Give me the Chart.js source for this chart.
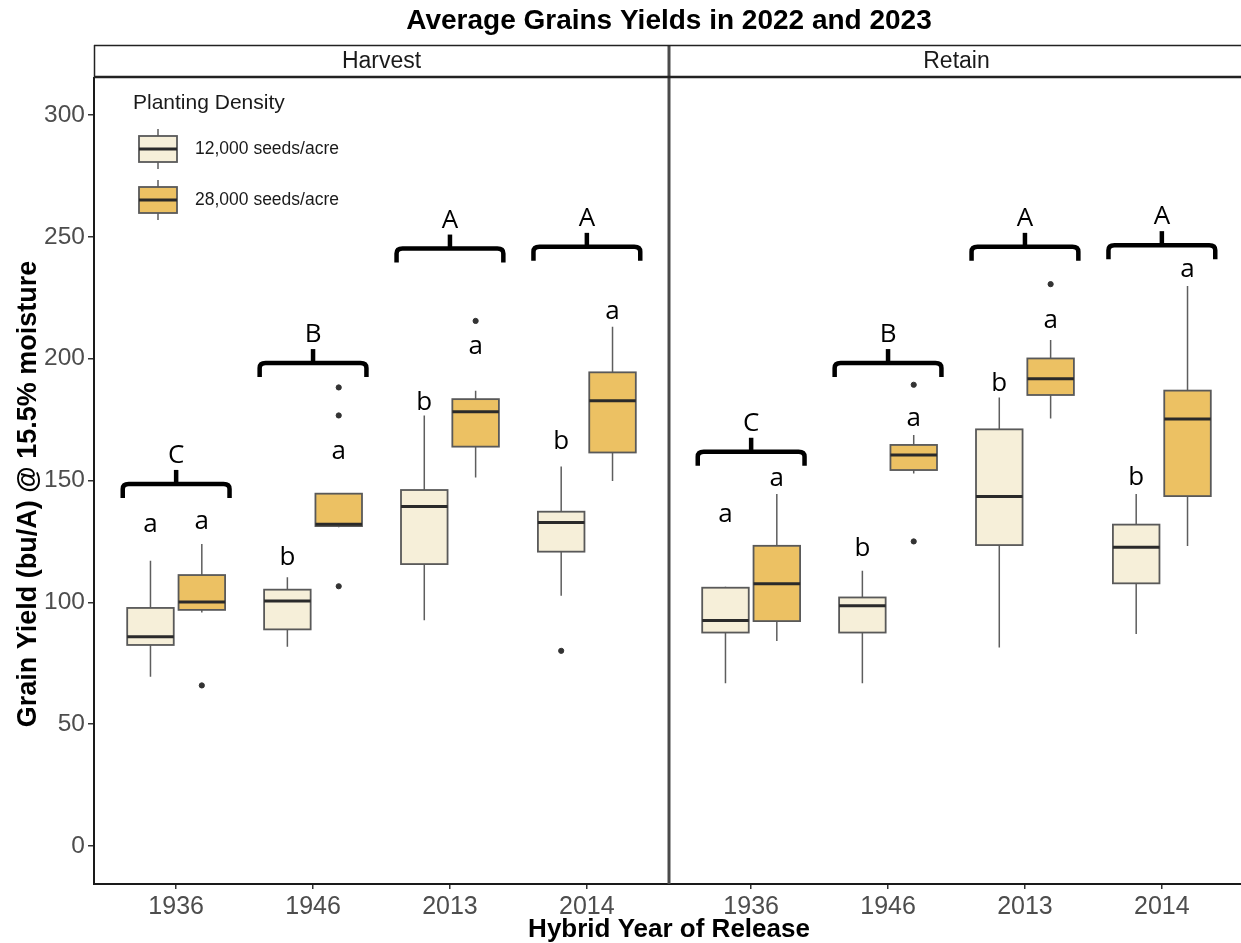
<!DOCTYPE html>
<html>
<head>
<meta charset="utf-8">
<script src="https://cdn.jsdelivr.net/npm/chart.js@4.4.1/dist/chart.umd.min.js"></script>
<style>
  html, body { margin: 0; padding: 0; background: #fff; overflow: hidden; }
  canvas { display: block; }
</style>
</head>
<body>
<canvas id="chart" width="1250" height="943"></canvas>
<script>
// ---- data ----
const years = ['1936', '1946', '2013', '2014'];
const panels = ['Harvest', 'Retain'];
const densities = ['12,000 seeds/acre', '28,000 seeds/acre'];
const yTicks = [0, 50, 100, 150, 200, 250, 300];

// five-number summaries per hybrid: [lower whisker, Q1, median, Q3, upper whisker]
const harvest12k = [
  [69.5, 82.5, 85.9, 97.7, 117.1],
  [81.8, 88.9, 100.5, 105.2, 110.3],
  [92.7, 115.7, 139.3, 146.1, 176.7],
  [102.7, 120.8, 132.8, 137.2, 155.7]
];
const harvest28k = [
  [95.8, 96.9, 100.1, 111.2, 123.9],
  [130.8, 131.3, 132.1, 144.6, 144.6],
  [151.2, 163.9, 178.2, 183.4, 186.8],
  [149.8, 161.5, 182.7, 194.4, 213.1]
];
const retain12k = [
  [66.8, 87.6, 92.5, 106.0, 106.4],
  [66.8, 87.6, 98.6, 102.0, 113.0],
  [81.5, 123.5, 143.4, 171.0, 184.1],
  [87.0, 107.8, 122.6, 131.9, 144.5]
];
const retain28k = [
  [84.1, 92.3, 107.6, 123.2, 144.5],
  [152.9, 154.3, 160.5, 164.6, 168.7],
  [175.5, 185.1, 191.8, 200.1, 207.7],
  [123.1, 143.6, 175.2, 186.9, 229.8]
];

// outlying observations per hybrid
const harvest12kOutliers = [[], [], [], [80.1]];
const harvest28kOutliers = [[65.9], [188.2, 176.7, 106.6], [215.5], []];
const retain12kOutliers = [[], [], [], []];
const retain28kOutliers = [[], [189.3, 125.0], [230.6], []];

// mean-separation letters within each hybrid (density comparison) and the height they sit at
const harvest12kLetters = ['a', 'b', 'b', 'b'];
const harvest12kLetterY = [129.0, 115.3, 178.9, 162.8];
const harvest28kLetters = ['a', 'a', 'a', 'a'];
const harvest28kLetterY = [130.3, 158.8, 201.9, 216.1];
const retain12kLetters = ['a', 'b', 'b', 'b'];
const retain12kLetterY = [133.1, 119.0, 186.9, 148.2];
const retain28kLetters = ['a', 'a', 'a', 'a'];
const retain28kLetterY = [147.7, 172.5, 212.4, 233.6];

// letters comparing hybrids, with the height of their brackets
const harvestGroups = ['C', 'B', 'A', 'A'];
const harvestGroupY = [148.6, 198.2, 245.2, 245.9];
const retainGroups = ['C', 'B', 'A', 'A'];
const retainGroupY = [161.8, 198.2, 245.9, 246.6];

// ---- layout on the x scale (one unit per hybrid, two facets side by side) ----
const PANEL_SPAN = years.length + 0.2;
const DODGE = 0.1875;
const BOX_HALF = 0.17;
const fills = ['#F6EFD9', '#ECC163'];

function catPos(panel, cat) { return panel * PANEL_SPAN + 0.6 + cat; }
function boxPos(panel, cat, dens) { return catPos(panel, cat) + (dens === 0 ? -DODGE : DODGE); }

const series = [
  { panel: 0, dens: 0, stats: harvest12k, out: harvest12kOutliers, letters: harvest12kLetters, letterY: harvest12kLetterY },
  { panel: 0, dens: 1, stats: harvest28k, out: harvest28kOutliers, letters: harvest28kLetters, letterY: harvest28kLetterY },
  { panel: 1, dens: 0, stats: retain12k, out: retain12kOutliers, letters: retain12kLetters, letterY: retain12kLetterY },
  { panel: 1, dens: 1, stats: retain28k, out: retain28kOutliers, letters: retain28kLetters, letterY: retain28kLetterY }
];
const groups = [
  { panel: 0, letters: harvestGroups, y: harvestGroupY },
  { panel: 1, letters: retainGroups, y: retainGroupY }
];

const tickPositions = [];
panels.forEach((p, pi) => years.forEach((y, i) => tickPositions.push(catPos(pi, i))));

// outlier points go through a regular scatter dataset
const outlierData = [];
series.forEach(s => s.out.forEach((vals, i) => vals.forEach(v => outlierData.push({ x: boxPos(s.panel, i, s.dens), y: v }))));

const SANS = '"Liberation Sans", Arial, sans-serif';
const LETTER_FONT = '"Open Sans", "Liberation Sans", sans-serif';

function drawBox(ctx, cx, half, yLo, yQ1, yMed, yQ3, yHi, fill) {
  ctx.save();
  ctx.strokeStyle = '#5e5e5e';
  ctx.lineWidth = 1.5;
  ctx.beginPath();
  ctx.moveTo(cx, yHi); ctx.lineTo(cx, yQ3);
  ctx.moveTo(cx, yQ1); ctx.lineTo(cx, yLo);
  ctx.stroke();
  ctx.fillStyle = fill;
  ctx.fillRect(cx - half, yQ3, 2 * half, yQ1 - yQ3);
  ctx.lineWidth = 1.8;
  ctx.strokeStyle = '#595959';
  ctx.strokeRect(cx - half, yQ3, 2 * half, yQ1 - yQ3);
  ctx.strokeStyle = '#2a2a2a';
  ctx.lineWidth = 3;
  ctx.beginPath();
  ctx.moveTo(cx - half, yMed); ctx.lineTo(cx + half, yMed);
  ctx.stroke();
  ctx.restore();
}

function drawBracket(ctx, x1, x2, y) {
  const xc = (x1 + x2) / 2;
  ctx.save();
  ctx.strokeStyle = '#000';
  ctx.lineWidth = 4.5;
  ctx.lineJoin = 'round';
  ctx.beginPath();
  ctx.moveTo(x1, y + 14);
  ctx.lineTo(x1, y + 5);
  ctx.quadraticCurveTo(x1, y, x1 + 6, y);
  ctx.lineTo(x2 - 6, y);
  ctx.quadraticCurveTo(x2, y, x2, y + 5);
  ctx.lineTo(x2, y + 14);
  ctx.stroke();
  ctx.beginPath();
  ctx.moveTo(xc, y);
  ctx.lineTo(xc, y - 14);
  ctx.stroke();
  ctx.restore();
}

const facetPlugin = {
  id: 'facetBoxes',
  beforeDatasetsDraw(chart) {
    const ctx = chart.ctx, xs = chart.scales.x, ys = chart.scales.y;
    const half = xs.getPixelForValue(BOX_HALF) - xs.getPixelForValue(0);
    series.forEach(s => s.stats.forEach((st, i) => {
      const cx = xs.getPixelForValue(boxPos(s.panel, i, s.dens));
      const p = st.map(v => ys.getPixelForValue(v));
      drawBox(ctx, cx, half, p[0], p[1], p[2], p[3], p[4], fills[s.dens]);
    }));
  },
  afterDraw(chart) {
    const ctx = chart.ctx, xs = chart.scales.x, ys = chart.scales.y, area = chart.chartArea;
    const unit = xs.getPixelForValue(1) - xs.getPixelForValue(0);
    const split = xs.getPixelForValue(PANEL_SPAN);
    const cxMid = (area.left + area.right) / 2;

    // density letters above each box
    ctx.save();
    ctx.fillStyle = '#000';
    ctx.font = '26px ' + LETTER_FONT;
    ctx.textAlign = 'center';
    ctx.textBaseline = 'alphabetic';
    series.forEach(s => s.letters.forEach((l, i) => {
      ctx.fillText(l, xs.getPixelForValue(boxPos(s.panel, i, s.dens)), ys.getPixelForValue(s.letterY[i]));
    }));
    // hybrid brackets and letters
    groups.forEach(g => g.letters.forEach((l, i) => {
      const c = xs.getPixelForValue(catPos(g.panel, i));
      const y = ys.getPixelForValue(g.y[i]);
      drawBracket(ctx, c - 0.39 * unit, c + 0.39 * unit, y);
      ctx.fillText(l, c, y - 21);
    }));
    ctx.restore();

    // divider between the facets
    ctx.save();
    ctx.strokeStyle = '#4a4a4a';
    ctx.lineWidth = 3;
    ctx.beginPath();
    ctx.moveTo(split, 45); ctx.lineTo(split, area.bottom);
    ctx.stroke();
    ctx.restore();

    // facet strips
    ctx.save();
    ctx.strokeStyle = '#222';
    ctx.lineWidth = 1.5;
    ctx.beginPath();
    ctx.moveTo(area.left, 45.5); ctx.lineTo(area.right + 10, 45.5);
    ctx.moveTo(area.left + 0.5, 45); ctx.lineTo(area.left + 0.5, area.top);
    ctx.stroke();
    ctx.lineWidth = 2.5;
    ctx.beginPath();
    ctx.moveTo(area.left, area.top - 1); ctx.lineTo(area.right + 10, area.top - 1);
    ctx.stroke();
    ctx.fillStyle = '#1a1a1a';
    ctx.font = '23px ' + SANS;
    ctx.textAlign = 'center';
    ctx.textBaseline = 'middle';
    panels.forEach((p, pi) => {
      const a = xs.getPixelForValue(pi * PANEL_SPAN), b = xs.getPixelForValue((pi + 1) * PANEL_SPAN);
      ctx.fillText(p, (a + b) / 2, 62);
    });
    ctx.restore();

    // titles
    ctx.save();
    ctx.fillStyle = '#000';
    ctx.textAlign = 'center';
    ctx.textBaseline = 'middle';
    ctx.font = 'bold 28px ' + SANS;
    ctx.fillText('Average Grains Yields in 2022 and 2023', cxMid, 21);
    ctx.textBaseline = 'alphabetic';
    ctx.font = 'bold 26px ' + SANS;
    ctx.fillText('Hybrid Year of Release', cxMid, 937);
    ctx.translate(36, 494);
    ctx.rotate(-Math.PI / 2);
    ctx.font = 'bold 27px ' + SANS;
    ctx.fillText('Grain Yield (bu/A) @ 15.5% moisture', 0, 0);
    ctx.restore();

    // legend
    ctx.save();
    ctx.fillStyle = '#1a1a1a';
    ctx.font = '21px ' + SANS;
    ctx.textBaseline = 'middle';
    ctx.fillText('Planting Density', 133, 103);
    ctx.font = '17.5px ' + SANS;
    densities.forEach((d, i) => {
      const top = 136 + i * 51;
      drawBox(ctx, 158, 19, top + 33, top + 26, top + 13, top, top - 7, fills[i]);
      ctx.fillStyle = '#1a1a1a';
      ctx.fillText(d, 195, top + 13);
    });
    ctx.restore();
  }
};

new Chart(document.getElementById('chart'), {
  type: 'scatter',
  data: {
    datasets: [{
      data: outlierData,
      backgroundColor: '#333',
      borderColor: '#333',
      pointRadius: 2.6,
      pointHoverRadius: 2.6
    }]
  },
  options: {
    responsive: false,
    animation: false,
    events: [],
    layout: { padding: { top: 78, right: 6, left: 0, bottom: 0 } },
    plugins: { legend: { display: false }, title: { display: false }, tooltip: { enabled: false } },
    scales: {
      x: {
        type: 'linear',
        min: 0,
        max: PANEL_SPAN * panels.length,
        afterBuildTicks: s => { s.ticks = tickPositions.map(v => ({ value: v })); },
        afterFit: s => { s.height = 59; },
        ticks: {
          autoSkip: false, maxRotation: 0, minRotation: 0, padding: 3,
          color: '#4d4d4d', font: { family: SANS, size: 25 },
          callback: (v, i) => years[i % years.length]
        },
        grid: { display: true, drawOnChartArea: false, drawTicks: true, tickLength: 5, color: '#333', lineWidth: 1.5 },
        border: { display: true, color: '#1a1a1a', width: 2 }
      },
      y: {
        min: -15.6,
        max: 315.2,
        afterBuildTicks: s => { s.ticks = yTicks.map(v => ({ value: v })); },
        afterFit: s => { s.width = 94; },
        ticks: {
          padding: 3, color: '#4d4d4d', font: { family: SANS, size: 24.5 }
        },
        grid: { display: true, drawOnChartArea: false, drawTicks: true, tickLength: 6, color: '#333', lineWidth: 1.5 },
        border: { display: true, color: '#1a1a1a', width: 2 }
      }
    }
  },
  plugins: [facetPlugin]
});
</script>
</body>
</html>
